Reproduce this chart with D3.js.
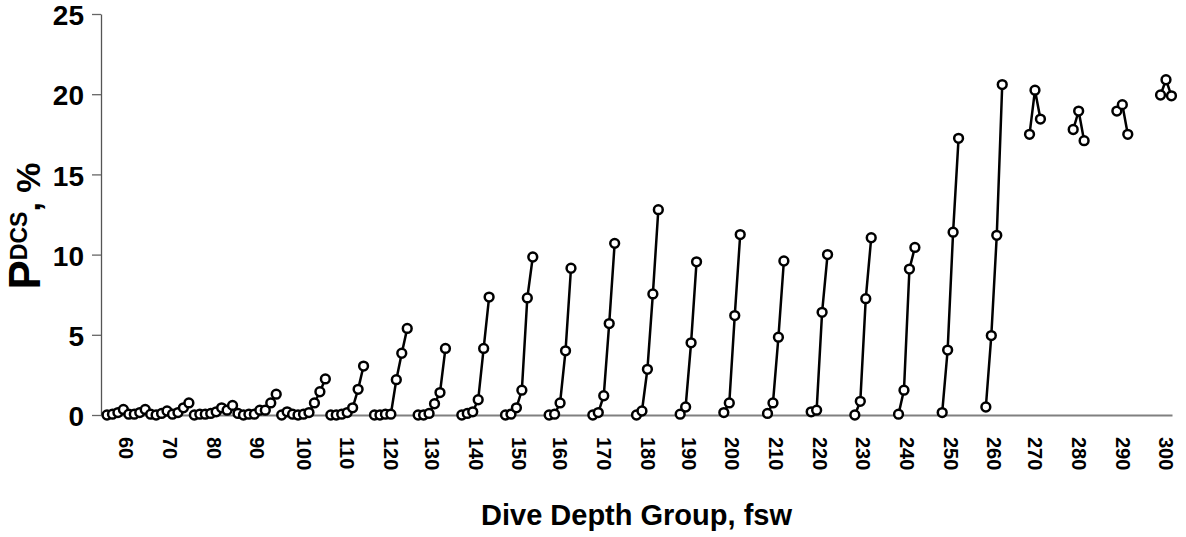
<!DOCTYPE html>
<html>
<head>
<meta charset="utf-8">
<script src="https://cdn.jsdelivr.net/npm/d3@7"></script>
<style>
  body { margin: 0; background: #fff; }
  svg { display: block; }
</style>
</head>
<body>
<div id="chart"></div>
<script>
// depth groups, first category index of each group, and P(DCS) % per category
var depthLabels = ["60","70","80","90","100","110","120","130","140","150","160","170","180",
                   "190","200","210","220","230","240","250","260","270","280","290","300"];
var groupStart = [0,8,16,24,32,41,49,57,65,73,81,89,97,105,113,121,129,137,145,153,161,169,177,185,193];
var groupValues = [
  [0.0, 0.05, 0.15, 0.35, 0.05, 0.05, 0.15, 0.35],
  [0.05, 0.0, 0.1, 0.25, 0.05, 0.15, 0.45, 0.75],
  [0.0, 0.05, 0.05, 0.1, 0.2, 0.45, 0.3, 0.6],
  [0.1, 0.0, 0.05, 0.05, 0.3, 0.3, 0.75, 1.3],
  [0.0, 0.2, 0.05, 0.0, 0.05, 0.15, 0.75, 1.45, 2.25],
  [0.0, 0.0, 0.05, 0.15, 0.45, 1.6, 3.05],
  [0.0, 0.0, 0.05, 0.05, 2.2, 3.85, 5.4],
  [0.0, 0.0, 0.1, 0.7, 1.4, 4.15],
  [0.0, 0.1, 0.2, 0.95, 4.15, 7.35],
  [0.0, 0.05, 0.45, 1.55, 7.3, 9.85],
  [0.0, 0.05, 0.75, 4.0, 9.15],
  [0.0, 0.15, 1.2, 5.7, 10.7],
  [0.0, 0.25, 2.85, 7.55, 12.8],
  [0.05, 0.5, 4.5, 9.55],
  [0.15, 0.75, 6.2, 11.25],
  [0.1, 0.75, 4.85, 9.6],
  [0.2, 0.3, 6.4, 10.0],
  [0.0, 0.85, 7.25, 11.05],
  [0.05, 1.55, 9.1, 10.45],
  [0.15, 4.05, 11.4, 17.25],
  [0.5, 4.95, 11.2, 20.6],
  [17.5, 20.25, 18.45],
  [17.8, 18.95, 17.1],
  [18.95, 19.35, 17.5],
  [19.95, 20.9, 19.9]
];
var yTicks = [0, 5, 10, 15, 20, 25];

var width = 1186, height = 537;
var plotLeft = 101, plotRight = 1172, plotTop = 14, plotBottom = 415;
var font = "'Liberation Sans', Arial, sans-serif";

var svg = d3.select("#chart").append("svg")
    .attr("width", width)
    .attr("height", height);

var x = d3.scaleLinear().domain([-1.1, 195.1]).range([plotLeft, plotRight]);
var y = d3.scaleLinear().domain([0, 25]).range([plotBottom, plotTop]);

// build one series per depth group
var groups = depthLabels.map(function(lab, i) {
  var pts = groupValues[i].map(function(v, j) {
    return { slot: groupStart[i] + j, value: v };
  });
  return { label: lab, points: pts,
           mid: groupStart[i] + (groupValues[i].length - 1) / 2 };
});

// y axis
var yAxis = svg.append("g")
    .attr("transform", "translate(" + plotLeft + ",0)")
    .call(d3.axisLeft(y).tickValues(yTicks).tickSize(9).tickSizeOuter(0).tickPadding(8));
yAxis.select(".domain").attr("stroke", "#555").attr("stroke-width", 1.3);
yAxis.selectAll(".tick line").attr("stroke", "#666").attr("stroke-width", 1.3);
yAxis.selectAll(".tick text")
    .attr("font-family", font)
    .attr("font-size", 28)
    .attr("font-weight", "bold")
    .attr("fill", "#000")
    .attr("dy", "0.38em");

// x axis with rotated group labels
var labelBySlot = {};
groups.forEach(function(g) { labelBySlot[g.mid] = g.label; });
var xAxis = svg.append("g")
    .attr("transform", "translate(0," + plotBottom + ")")
    .call(d3.axisBottom(x)
      .tickValues(groups.map(function(g) { return g.mid; }))
      .tickFormat(function(d) { return labelBySlot[d]; })
      .tickSize(0).tickSizeOuter(0));
xAxis.select(".domain").attr("stroke", "#808080").attr("stroke-width", 2);
xAxis.selectAll(".tick text")
    .attr("font-family", font)
    .attr("font-size", 20)
    .attr("font-weight", "bold")
    .attr("fill", "#000")
    .attr("text-anchor", "start")
    .attr("transform", "rotate(90)")
    .attr("x", 22)
    .attr("y", 0)
    .attr("dy", "0.36em");

// lines and markers
var line = d3.line()
    .x(function(d) { return x(d.slot); })
    .y(function(d) { return y(d.value); });

var series = svg.append("g").selectAll("g")
    .data(groups)
    .enter().append("g");

series.append("path")
    .attr("d", function(d) { return line(d.points); })
    .attr("fill", "none")
    .attr("stroke", "#000")
    .attr("stroke-width", 2.5);

series.selectAll("circle")
    .data(function(d) { return d.points; })
    .enter().append("circle")
    .attr("cx", function(d) { return x(d.slot); })
    .attr("cy", function(d) { return y(d.value); })
    .attr("r", 4.4)
    .attr("fill", "#fff")
    .attr("stroke", "#000")
    .attr("stroke-width", 2.5);

// axis titles
svg.append("text")
    .attr("x", (plotLeft + plotRight) / 2)
    .attr("y", 525)
    .attr("text-anchor", "middle")
    .attr("font-family", font)
    .attr("font-size", 29)
    .attr("font-weight", "bold")
    .text("Dive Depth Group, fsw");

var yTitle = svg.append("text")
    .attr("transform", "translate(40,226) rotate(-90)")
    .attr("text-anchor", "middle")
    .attr("font-family", font)
    .attr("font-weight", "bold");
yTitle.append("tspan").attr("font-size", 44).text("P");
yTitle.append("tspan").attr("font-size", 23).attr("dy", -13).text("DCS");
yTitle.append("tspan").attr("font-size", 34).attr("dy", 13).text(", %");
</script>
</body>
</html>
